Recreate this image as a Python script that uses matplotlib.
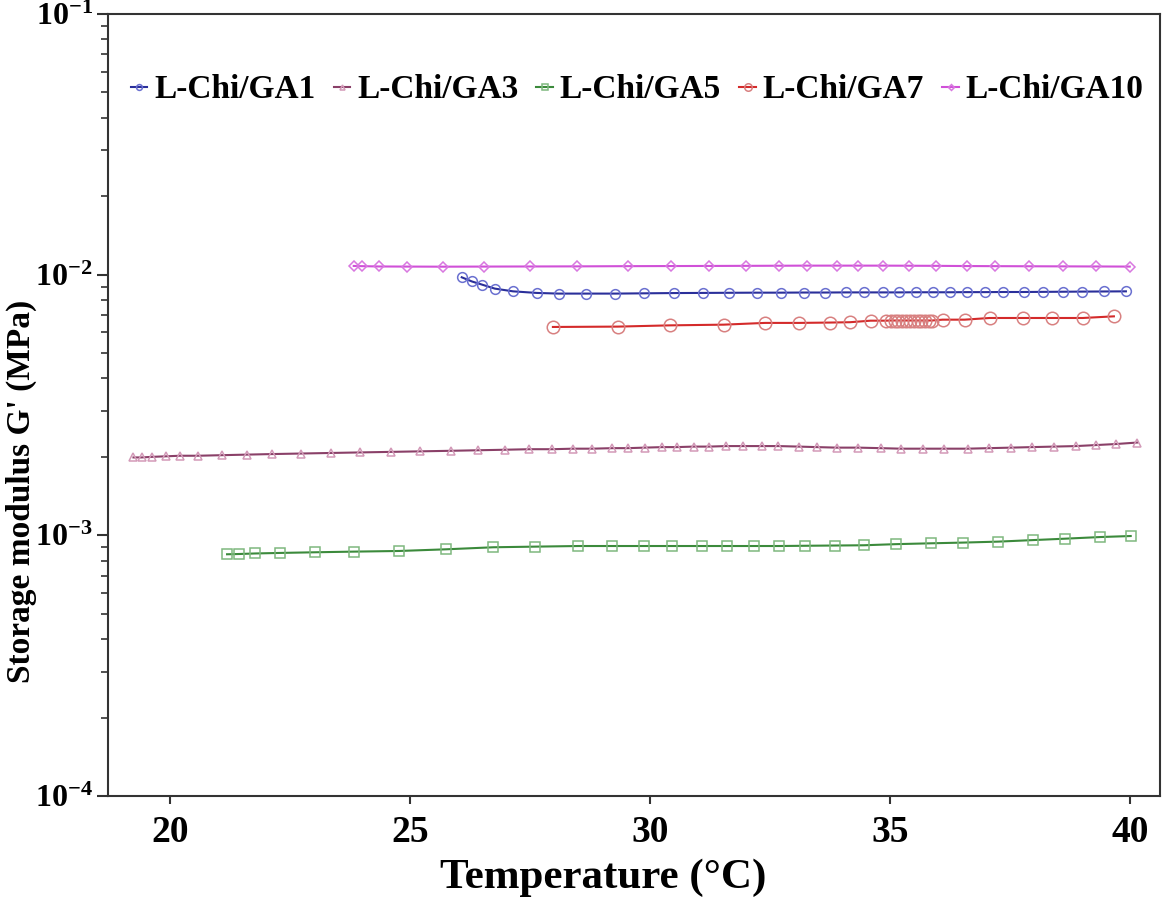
import numpy as np
import matplotlib
matplotlib.use('Agg')
import matplotlib.pyplot as plt
from matplotlib.ticker import LogLocator, FuncFormatter, NullFormatter

plt.rcParams['font.family'] = ['Liberation Serif', 'DejaVu Serif']
plt.rcParams['font.weight'] = 'bold'
plt.rcParams['mathtext.fontset'] = 'custom'
plt.rcParams['mathtext.rm'] = 'Liberation Serif:bold'
plt.rcParams['mathtext.bf'] = 'Liberation Serif:bold'
plt.rcParams['mathtext.default'] = 'bf'

# L-Chi/GA10 (magenta diamonds)
t_ga10 = [23.83, 24.0, 24.36, 24.93, 25.7, 26.54, 27.5, 28.48, 29.55, 30.44, 31.23,
          32.0, 32.7, 33.27, 33.9, 34.33, 34.86, 35.4, 35.97, 36.6, 37.2, 37.9,
          38.6, 39.3, 40.0]
g_ga10 = [0.01080, 0.01078, 0.01075, 0.01074, 0.01073, 0.01074, 0.01075, 0.01076,
          0.01078, 0.01079, 0.01080, 0.01081, 0.01082, 0.01083, 0.01083, 0.01083,
          0.01083, 0.01082, 0.01081, 0.01079, 0.01078, 0.01077, 0.01076, 0.01075,
          0.01074]

# L-Chi/GA1 (blue circles)
t_ga1 = [26.08, 26.29, 26.51, 26.77, 27.15, 27.64, 28.10, 28.67, 29.28, 29.88, 30.51,
         31.10, 31.65, 32.24, 32.74, 33.21, 33.65, 34.08, 34.46, 34.86, 35.19, 35.54,
         35.89, 36.26, 36.60, 36.98, 37.36, 37.79, 38.19, 38.61, 39.01, 39.46, 39.92]
g_ga1 = [0.00977, 0.00942, 0.00915, 0.00884, 0.00863, 0.00851, 0.00846, 0.00846,
         0.00846, 0.00848, 0.00850, 0.00851, 0.00852, 0.00853, 0.00853, 0.00854,
         0.00854, 0.00855, 0.00855, 0.00855, 0.00855, 0.00856, 0.00856, 0.00856,
         0.00857, 0.00857, 0.00858, 0.00858, 0.00859, 0.00860, 0.00861, 0.00862,
         0.00863]

# L-Chi/GA7 (red circles)
t_ga7 = [27.98, 29.33, 30.42, 31.54, 32.4, 33.11, 33.75, 34.17, 34.6, 34.92,
         35.02, 35.1, 35.18, 35.26, 35.34, 35.42, 35.5, 35.58, 35.66, 35.74, 35.82,
         35.88, 36.1, 36.56, 37.08, 37.78, 38.38, 39.02, 39.67]
g_ga7 = [0.00630, 0.00632, 0.00639, 0.00643, 0.00653, 0.00653, 0.00655, 0.00657,
         0.00666, 0.00666, 0.00667, 0.00667, 0.00667, 0.00667, 0.00667, 0.00667,
         0.00667, 0.00667, 0.00667, 0.00667, 0.00667, 0.00667, 0.00672, 0.00672,
         0.00682, 0.00682, 0.00682, 0.00682, 0.00692]

# L-Chi/GA3 (mauve triangles)
t_ga3 = [19.24, 19.41, 19.62, 19.92, 20.21, 20.59, 21.08, 21.6, 22.12, 22.74, 23.35,
         23.96, 24.6, 25.21, 25.85, 26.41, 26.98, 27.49, 27.97, 28.4, 28.8, 29.22,
         29.54, 29.89, 30.26, 30.56, 30.91, 31.24, 31.59, 31.94, 32.33, 32.68, 33.1,
         33.48, 33.89, 34.34, 34.81, 35.23, 35.69, 36.12, 36.62, 37.07, 37.53, 37.96,
         38.42, 38.88, 39.3, 39.71, 40.16]
g_ga3 = [0.00199, 0.00199, 0.00200, 0.00201, 0.00202, 0.00202, 0.00203, 0.00204,
         0.00205, 0.00206, 0.00207, 0.00208, 0.00209, 0.00210, 0.00211, 0.00212,
         0.00213, 0.00214, 0.00214, 0.00215, 0.00215, 0.00216, 0.00216, 0.00217,
         0.00218, 0.00218, 0.00219, 0.00219, 0.00220, 0.00220, 0.00220, 0.00220,
         0.00219, 0.00218, 0.00217, 0.00217, 0.00216, 0.00215, 0.00215, 0.00215,
         0.00215, 0.00216, 0.00217, 0.00218, 0.00219, 0.00220, 0.00222, 0.00224,
         0.00227]

# L-Chi/GA5 (green squares)
t_ga5 = [21.19, 21.44, 21.77, 22.29, 23.02, 23.83, 24.78, 25.76, 26.74, 27.6, 28.51,
         29.21, 29.88, 30.47, 31.08, 31.61, 32.17, 32.69, 33.24, 33.85, 34.46, 35.12,
         35.85, 36.53, 37.26, 37.99, 38.66, 39.38, 40.02]
g_ga5 = [0.000846, 0.000848, 0.000852, 0.000856, 0.000861, 0.000866, 0.000871,
         0.000884, 0.000900, 0.000905, 0.000910, 0.000910, 0.000910, 0.000910,
         0.000910, 0.000910, 0.000910, 0.000910, 0.000912, 0.000914, 0.000916,
         0.000925, 0.000932, 0.000938, 0.000946, 0.000959, 0.000971, 0.000985,
         0.000994]

series = [
    ('L-Chi/GA1', t_ga1, g_ga1, '#2a2f9a', '#6a70d0', 'o', 7),
    ('L-Chi/GA3', t_ga3, g_ga3, '#8a4068', '#d39ab8', '^', 6),
    ('L-Chi/GA5', t_ga5, g_ga5, '#3b8a3b', '#7fb87f', 's', 6.5),
    ('L-Chi/GA7', t_ga7, g_ga7, '#d42a2a', '#d88080', 'o', 9),
    ('L-Chi/GA10', t_ga10, g_ga10, '#d050d8', '#d878e0', 'D', 5),
]

fig = plt.figure(figsize=(11.63, 9.02), dpi=100)
ax = fig.add_axes([0.0929, 0.1175, 0.9045, 0.867])

for name, t, g, lc, mc, mk, ms in series:
    ax.plot(t, g, color=lc, lw=1.5, marker=mk, ms=ms, mfc='none', mec=mc,
            mew=1.1, label=name)

ax.set_yscale('log')
ax.set_ylim(1e-4, 1e-1)
ax.set_xlim(18.71, 40.63)
ax.set_xticks([20, 25, 30, 35, 40])
ax.yaxis.set_major_locator(LogLocator(base=10, numticks=10))
ax.yaxis.set_minor_locator(LogLocator(base=10, subs=np.arange(2, 10), numticks=20))
ax.yaxis.set_minor_formatter(NullFormatter())
ax.yaxis.set_major_formatter(FuncFormatter(
    lambda v, p: r'$\mathbf{10^{%d}}$' % int(round(np.log10(v)))))

for s in ax.spines.values():
    s.set_color('#333333')
    s.set_linewidth(1.5)

ax.tick_params(axis='y', which='major', direction='out', length=8, width=1.5,
               labelsize=23, colors='#333333', labelcolor='black', pad=3)
ax.tick_params(axis='y', which='minor', direction='out', length=5, width=1.2,
               colors='#333333')
ax.tick_params(axis='x', which='major', direction='out', length=6, width=1.5,
               labelsize=27, colors='#333333', labelcolor='black', pad=8)

ax.set_xlabel('Temperature (°C)', fontsize=31, fontweight='bold')
ax.xaxis.set_label_coords(0.471, -0.08)
ax.set_ylabel("Storage modulus G' (MPa)", fontsize=24, fontweight='bold')
ax.yaxis.set_label_coords(-0.068, 0.39)

leg = ax.legend(loc='center', bbox_to_anchor=(0.503, 0.903), ncol=5, frameon=False,
                fontsize=24, handlelength=0.5, handletextpad=0.2, columnspacing=0.55,
                markerscale=0.6)
for tx in leg.get_texts():
    tx.set_fontweight('bold')

fig.savefig('out.png', dpi=100)
